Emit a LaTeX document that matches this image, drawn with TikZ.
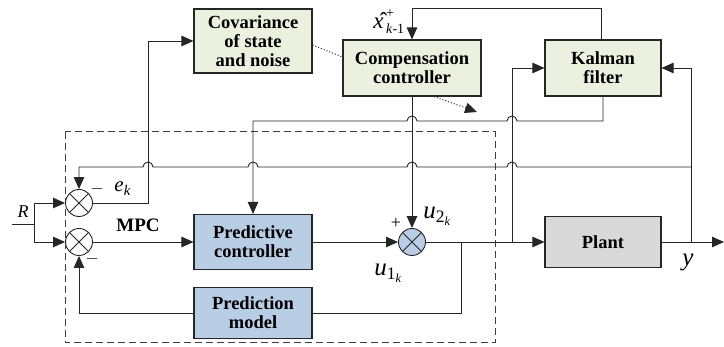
\documentclass[tikz,border=0pt]{standalone}
\usepackage{fontspec}
\setmainfont{Liberation Serif}
\usetikzlibrary{arrows.meta}
\definecolor{linec}{HTML}{262626}
\definecolor{gfill}{HTML}{EBF1DE}
\definecolor{bfill}{HTML}{B9CDE5}
\definecolor{pfill}{HTML}{D9D9D9}
\definecolor{dashc}{HTML}{404040}
\begin{document}
\begin{tikzpicture}[x=1pt,y=-1pt,
  line width=0.9pt, draw=linec,
  arr/.style={-{Triangle[length=12pt,width=10.5pt]}},
  blk/.style={draw=linec, line width=1.1pt, align=center, inner sep=0pt,
    font=\bfseries\fontsize{18.5}{19}\selectfont},
  gbox/.style={blk, fill=gfill},
  bbox/.style={blk, fill=bfill},
  pbox/.style={blk, fill=pfill},
  sumnode/.style={circle, draw=linec, line width=0.9pt, minimum size=27pt, inner sep=0pt,
    path picture={\draw[linec, line width=0.9pt] (path picture bounding box.south west) -- (path picture bounding box.north east)
      (path picture bounding box.north west) -- (path picture bounding box.south east);}},
  lbl/.style={inner sep=0pt, font=\fontsize{21}{21}\selectfont},
  sgn/.style={inner sep=0pt, font=\fontsize{18}{18}\selectfont}
]
\useasboundingbox (0,0) rectangle (724,347);

% dashed MPC region
\draw[dashc, line width=1pt, dash pattern=on 7pt off 4pt] (65,132) rectangle (495,343);

% blocks
\node[gbox, minimum width=118pt, minimum height=64pt] (cov) at (253,41) {Covariance\\of state\\and noise};
\node[gbox, minimum width=138pt, minimum height=56pt] (comp) at (412,68) {Compensation\\controller};
\node[gbox, minimum width=116pt, minimum height=56pt] (kal) at (603,68) {Kalman\\filter};
\node[bbox, minimum width=118pt, minimum height=55pt] (pc) at (253,242) {Predictive\\controller};
\node[bbox, minimum width=118pt, minimum height=51pt] (pm) at (253,313) {Prediction\\model};
\node[pbox, minimum width=116pt, minimum height=51pt] (plant) at (603,242) {Plant};

% summing junctions
\node[sumnode] (s1) at (79,203) {};
\node[sumnode] (s2) at (79,242) {};
\node[sumnode, fill=bfill] (s3) at (412,242) {};

% coordinates
\coordinate (Rin) at (12,224);
\coordinate (Rj) at (34,224);
\coordinate (ek) at (148,203);
\coordinate (ekt) at (148,41);
\coordinate (pmj) at (461,242);
\coordinate (kj) at (512,242);
\coordinate (yj) at (691,242);
\coordinate (yend) at (724,242);
\coordinate (fb) at (691,167);
\coordinate (dotend) at (477,112);

% reference input
\draw (Rin) -- (Rj);
\draw[arr] (Rj) |- (s1.west);
\draw[arr] (Rj) |- (s2.west);

% error to covariance
\draw[arr] (s1.east) -- (ek) -- (ekt) -- (cov.west);

% main forward path
\draw[arr] (s2.east) -- (pc.west);
\draw[arr] (pc.east) -- (s3.west);
\draw[arr] (comp.south) -- (s3.north);
\draw[arr] (s3.east) -- (plant.west);
\draw[arr] (plant.east) -- (yend);

% prediction model loop
\draw (pmj) |- (pm.east);
\draw[arr] (pm.west) -| (s2.south);

% Kalman inputs
\draw[arr] (kj) |- (kal.west);
\draw[arr] (yj) |- (kal.east);

% output feedback to upper sum, with line jumps
\draw[arr] (fb) -- (517,167) arc[start angle=0,end angle=180,radius=5pt]
  -- (417,167) arc[start angle=0,end angle=180,radius=5pt]
  -- (258,167) arc[start angle=0,end angle=180,radius=5pt]
  -- (153,167) arc[start angle=0,end angle=180,radius=5pt]
  -- (79,167) -- (s1.north);

% Kalman estimate to predictive controller
\draw[arr] (kal.south) -- (603,121) -- (517,121) arc[start angle=0,end angle=180,radius=5pt]
  -- (417,121) arc[start angle=0,end angle=180,radius=5pt]
  -- (253,121) -- (pc.north);

% Kalman to compensation controller
\draw[arr] ([xshift=-2pt]kal.north) -- ++(0,-31) -| (comp.north);

% dotted links
\draw[dotted, line width=1pt] ([yshift=-4pt]cov.east) -- ([yshift=11pt]comp.west);
\draw[dotted, line width=1pt, arr] ([xshift=22pt]comp.south) -- (dotend);

% labels
\node[lbl, font=\fontsize{18}{18}\selectfont, anchor=base] (lR) at (23,218) {\textit{R}};
\node[lbl, anchor=base west] (lek) at (114,192) {\textit{e}\textsubscript{\textit{k}}};
\node[lbl, font=\bfseries\fontsize{19}{19}\selectfont] (lmpc) at (138,225) {MPC};
\node[lbl, font=\fontsize{23}{23}\selectfont, anchor=base west] (lx) at (373,29)
  {\^{\textit{x}}\kern2.5pt\rlap{\raisebox{11pt}{\fontsize{14}{14}\selectfont+}}\raisebox{-5pt}{\fontsize{14}{14}\selectfont\textit{k}-1}};
\node[lbl, font=\fontsize{25}{25}\selectfont, anchor=base west] (lu2) at (423,219) {\textit{u}\textsubscript{2\textsubscript{\textit{k}}}};
\node[lbl, font=\fontsize{25}{25}\selectfont, anchor=base west] (lu1) at (374,276) {\textit{u}\textsubscript{1\textsubscript{\textit{k}}}};
\node[lbl, font=\fontsize{25}{25}\selectfont, anchor=base] (ly) at (688,266) {\textit{y}};
\node[sgn] (m1) at (97,189) {$-$};
\node[sgn] (m2) at (92,259) {$-$};
\node[sgn] (p3) at (396,223) {+};
\end{tikzpicture}
\end{document}
